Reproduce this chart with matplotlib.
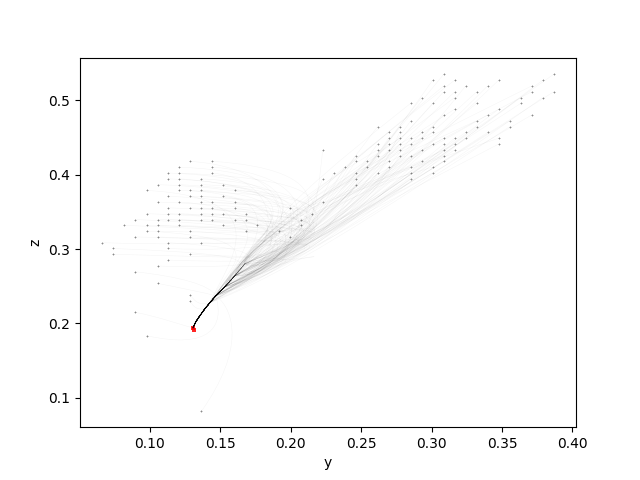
import matplotlib
matplotlib.use('Agg')
import matplotlib.pyplot as plt
from matplotlib.path import Path
from matplotlib.patches import PathPatch

# points on the left of the plot, one list of y values per z level
left_levels = [.4180, .4102, .4023, .3945, .3867, .3789, .3711, .3633, .3555, .3477,
               .3398, .3320, .3242, .3164, .3086, .3008, .2930, .2852, .2773]
left_rows = [
    [.1289, .1445],
    [.1211, .1445],
    [.1133, .1211, .1445],
    [.1133, .1211, .1367],
    [.1055, .1211, .1367, .1523],
    [.0977, .1211, .1289, .1367, .1602],
    [.1133, .1289, .1367, .1523],
    [.1055, .1211, .1367, .1445, .1602],
    [.1133, .1289, .1367, .1445, .1602],
    [.0977, .1133, .1211, .1367, .1445, .1523, .1680],
    [.0898, .1055, .1133, .1211, .1367, .1445, .1602, .1680],
    [.0820, .0977, .1055, .1211, .1523, .1758],
    [.0977, .1055, .1289, .1680],
    [.0898, .1055, .1289],
    [.0664, .1133, .1367],
    [.0742, .1133],
    [.0742, .1289],
    [.1133],
    [.1055],
]

# points on the right of the plot
right_levels = [.5352, .5273, .5195, .5117, .5039, .4961, .4883, .4805, .4727, .4648,
                .4570, .4492, .4414, .4336, .4258, .4180, .4102, .4023, .3945, .3867,
                .3633, .3555, .3477, .3398, .3320, .3242, .3164]
right_rows = [
    [.3086, .3867],
    [.3008, .3164, .3477, .3789],
    [.3086, .3242, .3398, .3711],
    [.3086, .3164, .3320, .3711, .3867],
    [.2930, .3164, .3633, .3789],
    [.2852, .3008, .3320, .3633],
    [.3164, .3477],
    [.3086, .3398, .3711],
    [.2852, .3320, .3555],
    [.2617, .2773, .3008, .3320, .3555],
    [.2695, .2773, .2930, .3008, .3242, .3398],
    [.2695, .2773, .2852, .2930, .3086, .3164, .3242, .3477],
    [.2617, .2695, .2773, .2852, .3008, .3086, .3164, .3477],
    [.2227, .2617, .2695, .2773, .2930, .3086, .3164],
    [.2461, .2617, .2773, .2852, .3086],
    [.2461, .2539, .2695, .2930, .3086],
    [.2383, .2539, .2695, .2852, .3008],
    [.2305, .2461, .2617, .2852, .3008],
    [.2227, .2461, .2852],
    [.2461],
    [.2227],
    [.1992],
    [.2148],
    [.2070],
    [.2070],
    [.1914],
    [.1992],
]

# outlying points low in the plot, each with its own path into the spine
low_y = [.1367, .0977, .0898, .0898, .1055, .1289, .1289]
low_z = [.0820, .1836, .2148, .2695, .2539, .2383, .2305]
low_c1y = [.1675, .1426, .1071, .1213, .1213, .1320, .1305]
low_c1z = [.1644, .1644, .2089, .2628, .2480, .2290, .2220]
low_c2y = [.1604, .1533, .1213, .1426, .1391, .1355, .1340]
low_c2z = [.2183, .1954, .1981, .2520, .2412, .2240, .2180]
low_join = [5, 5, 0, 5, 5, 4, 3]

# the shared track that every path ends on, last point first
spine_y = [.1307, .1327, .1355, .1391, .1426, .1469, .1533, .1604, .1675]
spine_z = [.1942, .2022, .2102, .2197, .2278, .2372, .2493, .2642, .2803]

end_y = [.1307, .1314]
end_z = [.1942, .1915]

# bends used in turn by the left and right groups
left_reach = [.205, .230, .250, .215, .260, .235, .195, .245]
left_turn_y = [.215, .235, .175, .225, .155, .245, .200, .165, .230, .190]
left_turn_z = [.310, .345, .290, .330, .280, .360, .300, .305, .320, .335]
left_join = [6, 7, 5, 8, 6, 7, 4, 5]

right_turn_y = [.205, .180, .225, .170, .240, .195, .160, .250, .215, .185]
right_turn_z = [.295, .260, .325, .310, .335, .265, .285, .345, .285, .345]
right_join = [7, 5, 8, 6, 7, 6, 5, 8, 4]

CURVE = [Path.CURVE4] * 3


def spine_path(y0, z0, c1, c2, j):
    verts = [(y0, z0), c1, c2, (spine_y[j], spine_z[j])]
    codes = [Path.MOVETO] + CURVE
    for k in range(j - 1, -1, -1):
        verts.append((spine_y[k], spine_z[k]))
        codes.append(Path.LINETO)
    return Path(verts, codes)


left_y, left_z = [], []
for level, row in zip(left_levels, left_rows):
    left_y += row
    left_z += [level] * len(row)
right_y, right_z = [], []
for level, row in zip(right_levels, right_rows):
    right_y += row
    right_z += [level] * len(row)

fig, ax = plt.subplots(figsize=(6.4, 4.8), dpi=100)

style = dict(fill=False, edgecolor='k', linewidth=0.4, alpha=0.04)

for n, (y0, z0) in enumerate(zip(left_y, left_z)):
    c1 = (left_reach[n % len(left_reach)], z0 - 0.01)
    c2 = (left_turn_y[n % len(left_turn_y)], left_turn_z[n % len(left_turn_z)])
    ax.add_patch(PathPatch(spine_path(y0, z0, c1, c2, left_join[n % len(left_join)]), **style))

for n, (y0, z0) in enumerate(zip(right_y, right_z)):
    c2 = (right_turn_y[n % len(right_turn_y)], right_turn_z[n % len(right_turn_z)])
    c1 = (y0 + 0.6 * (c2[0] - y0), z0 + 0.6 * (c2[1] - z0))
    ax.add_patch(PathPatch(spine_path(y0, z0, c1, c2, right_join[n % len(right_join)]), **style))

for n in range(len(low_y)):
    p = spine_path(low_y[n], low_z[n], (low_c1y[n], low_c1z[n]), (low_c2y[n], low_c2z[n]), low_join[n])
    ax.add_patch(PathPatch(p, **style))

# the last stretch of the track reads solid black in the reference
ax.plot(spine_y[:6], spine_z[:6], color='k', linewidth=0.8)

ax.scatter(left_y + right_y + low_y, left_z + right_z + low_z, marker='+', s=3.5, linewidths=0.6, c='k', alpha=0.45)
ax.scatter(end_y, end_z, marker='s', s=5, c='r', linewidths=0, alpha=0.85)

ax.set_xlim(0.0505, 0.4025)
ax.set_ylim(0.0604, 0.5576)
ax.set_xlabel('y')
ax.set_ylabel('z')

fig.savefig('out.png', dpi=100)
